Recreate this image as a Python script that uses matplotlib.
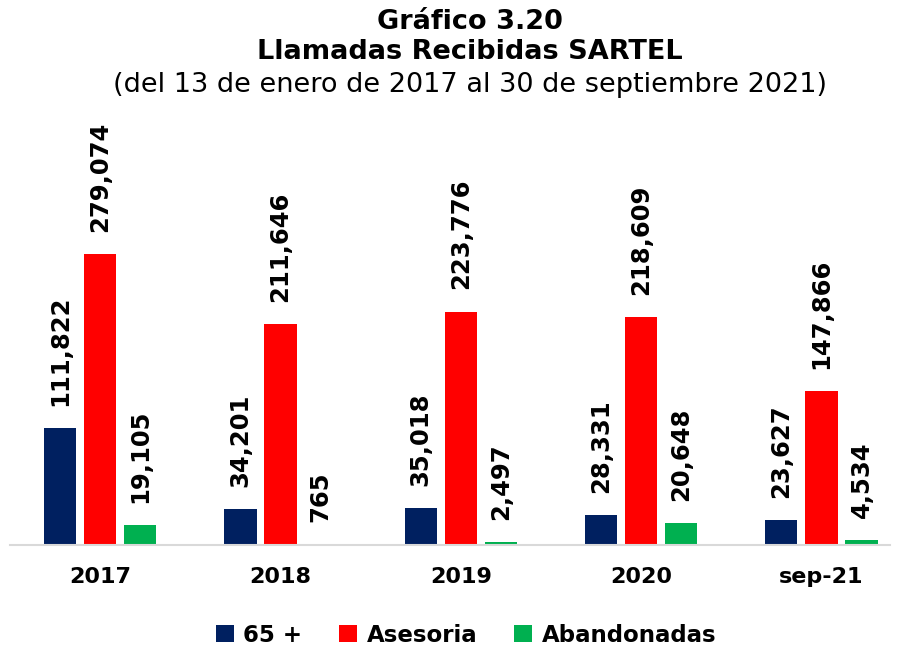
import numpy as np
import matplotlib.pyplot as plt

# Data
categories = ["2017", "2018", "2019", "2020", "sep-21"]
series_names = ["65 +", "Asesoria", "Abandonadas"]
mayores = [111822, 34201, 35018, 28331, 23627]
asesoria = [279074, 211646, 223776, 218609, 147866]
abandonadas = [19105, 765, 2497, 20648, 4534]

colors = ["#002060", "#FF0000", "#00B050"]

fig = plt.figure(figsize=(9.01, 6.46), dpi=100)
ax = fig.add_axes([10 / 901, 101 / 646, 880 / 901, 435 / 646])

x = np.arange(len(categories))
width = 0.178
offset = 0.222

for i, (vals, name) in enumerate(zip([mayores, asesoria, abandonadas], series_names)):
    bars = ax.bar(x + (i - 1) * offset, vals, width, color=colors[i], label=name)
    for b, v in zip(bars, vals):
        ax.annotate(f"{v:,}", (b.get_x() + b.get_width() / 2, b.get_height()),
                    xytext=(0, 16), textcoords="offset points",
                    rotation=90, ha="center", va="bottom",
                    fontsize=17.5, fontweight="bold")

ax.set_xlim(-0.5, 4.38)
ax.set_ylim(0, 417000)
ax.set_xticks(x)
ax.set_xticklabels(categories, fontsize=16, fontweight="bold")
ax.tick_params(axis="x", length=0, pad=16)
ax.set_yticks([])
for s in ["top", "right", "left"]:
    ax.spines[s].set_visible(False)
ax.spines["bottom"].set_color("#D9D9D9")
ax.spines["bottom"].set_linewidth(1.5)

# Titles
fig.text(470 / 901, 1 - 22 / 646, "Gráfico 3.20", ha="center", va="center",
         fontsize=19.5, fontweight="bold")
fig.text(470 / 901, 1 - 52 / 646, "Llamadas Recibidas SARTEL", ha="center", va="center",
         fontsize=19.5, fontweight="bold")
fig.text(470 / 901, 1 - 85 / 646, "(del 13 de enero de 2017 al 30 de septiembre 2021)",
         ha="center", va="center", fontsize=19.5)

fig.legend(loc="center", bbox_to_anchor=(466 / 901, 1 - 635 / 646), ncol=3,
           frameon=False, prop={"weight": "bold", "size": 16.5},
           handlelength=0.8, handleheight=0.8, handletextpad=0.4, columnspacing=1.6)

fig.savefig("out.png", dpi=100)
